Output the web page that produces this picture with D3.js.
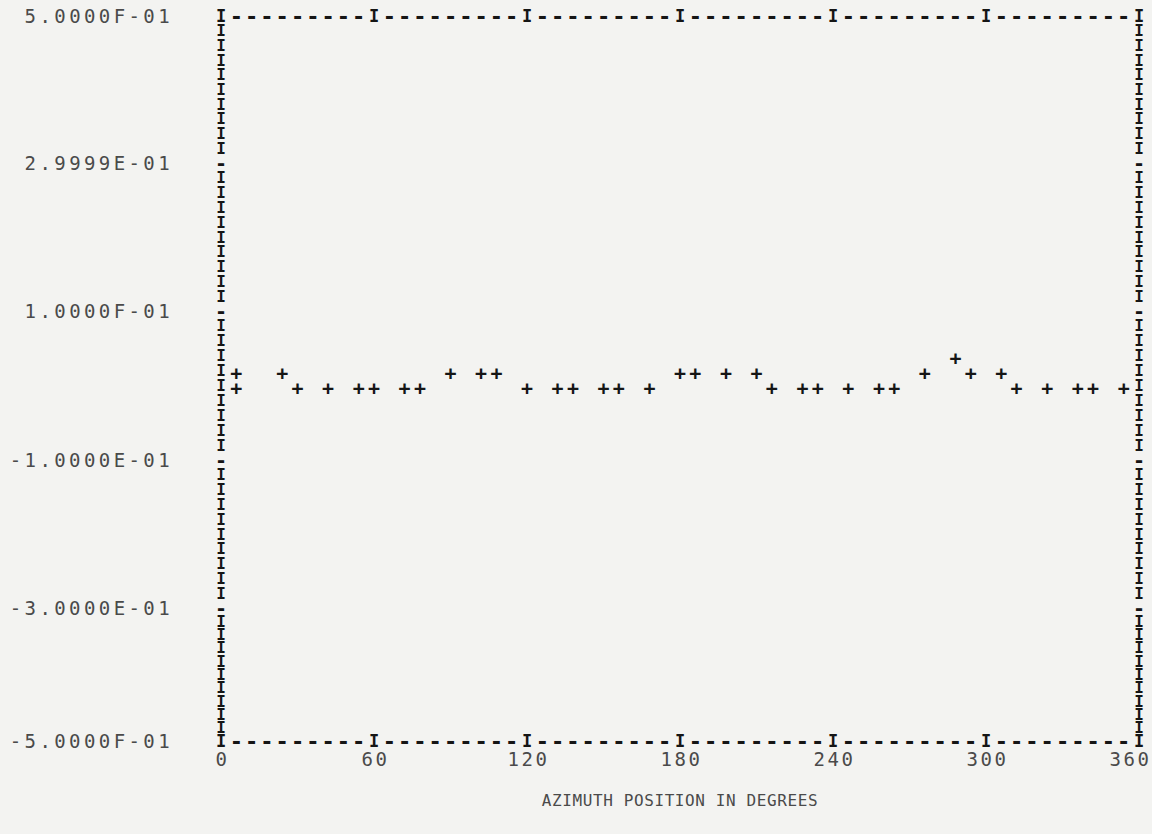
<!DOCTYPE html>
<html>
<head>
<meta charset="utf-8">
<script src="https://cdn.jsdelivr.net/npm/d3@7"></script>
<style>
  body { margin: 0; background: #f3f3f1; }
  svg { display: block; }
  .label text { font-family: "DejaVu Sans Mono", monospace; fill: #4a4a4a; }
  .pr { font-family: "DejaVu Sans Mono", monospace; font-weight: bold; fill: #151515; }
</style>
</head>
<body>
<svg id="chart" width="1152" height="834"></svg>
<script>
// Values (azimuth in degrees, response value)
const azimuth = [6, 6, 24, 30, 42, 54, 60, 72, 78,
  90, 102, 108, 120, 132, 138, 150, 156, 168,
  180, 186, 198, 210, 216, 228, 234, 246, 258, 264,
  276, 288, 294, 306, 312, 324, 336, 342, 354];
const response = [0.02, 0, 0.02, 0, 0, 0, 0, 0, 0,
  0.02, 0.02, 0.02, 0, 0, 0, 0, 0, 0,
  0.02, 0.02, 0.02, 0.02, 0, 0, 0, 0, 0, 0,
  0.02, 0.04, 0.02, 0.02, 0, 0, 0, 0, 0];

// Axis ticks as printed
const xTicks = [0, 60, 120, 180, 240, 300, 360];
const yTicks = [0.5, 0.3, 0.1, -0.1, -0.3, -0.5];
const yTickLabels = ["5.0000F-01", "2.9999E-01", "1.0000F-01", "-1.0000E-01", "-3.0000E-01", "-5.0000F-01"];
const xTitle = "AZIMUTH POSITION IN DEGREES";

// Printer grid: 60 columns across, 50 lines down
const nCols = 60, nRows = 50;

const svg = d3.select("#chart");

const x = d3.scaleLinear()
  .domain([0, 360])
  .range([221, 1139]);

// scanned page is slightly uneven, so the y scale follows the printed tick rows
const y = d3.scaleLinear()
  .domain(yTicks)
  .range([16, 163, 311, 460, 608, 741]);

// Frame drawn with printer characters
const colStep = 360 / nCols;
const rowStep = 1 / nRows;

// top and bottom lines
const hLine = [];
for (let c = 0; c <= nCols; c++) {
  const ch = c % 10 === 0 ? "I" : "-";
  hLine.push({ a: c * colStep, v: 0.5, ch: ch });
  hLine.push({ a: c * colStep, v: -0.5, ch: ch });
}

// left and right sides
const vLine = [];
for (let r = 1; r < nRows; r++) {
  const ch = r % 10 === 0 ? "-" : "I";
  vLine.push({ a: 0, v: 0.5 - r * rowStep, ch: ch });
  vLine.push({ a: 360, v: 0.5 - r * rowStep, ch: ch });
}

svg.append("g")
  .selectAll("text")
  .data(hLine)
  .enter()
  .append("text")
  .attr("class", "pr")
  .attr("x", d => x(d.a))
  .attr("y", d => y(d.v))
  .attr("text-anchor", "middle")
  .attr("dominant-baseline", "central")
  .style("font-size", d => d.ch === "I" ? "17px" : "22px")
  .text(d => d.ch);

svg.append("g")
  .selectAll("text")
  .data(vLine)
  .enter()
  .append("text")
  .attr("class", "pr")
  .attr("x", d => x(d.a))
  .attr("y", d => y(d.v))
  .attr("text-anchor", "middle")
  .attr("dominant-baseline", "central")
  .style("font-size", d => d.ch === "I" ? "16px" : "20px")
  .text(d => d.ch);

// Data points as "+"
svg.append("g")
  .selectAll("text")
  .data(azimuth.map((a, i) => ({ a: a, v: response[i] })))
  .enter()
  .append("text")
  .attr("class", "pr")
  .attr("x", d => x(d.a))
  .attr("y", d => y(d.v) + 2)
  .attr("text-anchor", "middle")
  .attr("dominant-baseline", "central")
  .style("font-size", "20px")
  .text("+");

// Y tick labels
const yAxis = d3.axisLeft(y)
  .tickValues(yTicks)
  .tickFormat((d, i) => yTickLabels[i])
  .tickSize(0)
  .tickPadding(48);

svg.append("g")
  .attr("class", "label")
  .attr("transform", "translate(221, 0)")
  .call(yAxis)
  .call(g => g.select(".domain").remove())
  .selectAll("text")
  .style("font-size", "19px")
  .style("letter-spacing", "3.4px")
  .attr("dy", "0.35em");

// X tick labels
const xAxis = d3.axisBottom(x)
  .tickValues(xTicks)
  .tickFormat(d3.format("d"))
  .tickSize(0)
  .tickPadding(8);

svg.append("g")
  .attr("class", "label")
  .attr("transform", "translate(0, 745)")
  .call(xAxis)
  .call(g => g.select(".domain").remove())
  .selectAll("text")
  .style("font-size", "19px")
  .style("letter-spacing", "2.5px")
  .attr("dx", d => d === 360 ? "-9px" : "1px");

// X title
svg.append("g")
  .attr("class", "label")
  .append("text")
  .attr("x", x(180))
  .attr("y", 806)
  .attr("text-anchor", "middle")
  .style("font-size", "16px")
  .style("letter-spacing", "0.6px")
  .text(xTitle);
</script>
</body>
</html>
